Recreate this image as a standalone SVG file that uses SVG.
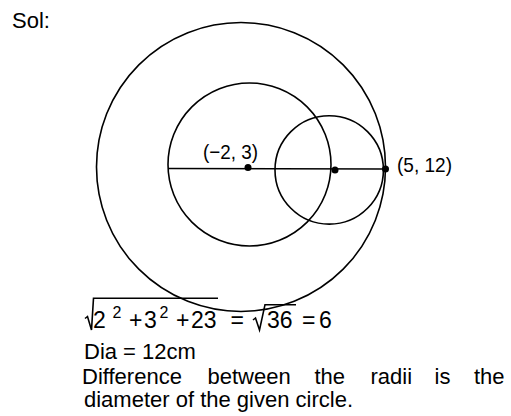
<svg xmlns="http://www.w3.org/2000/svg" width="511" height="416" viewBox="0 0 511 416">
<style>
.c{fill:none;stroke:#000;stroke-width:1.6}
.t{font-family:"Liberation Sans",Arial,sans-serif;font-size:22px;fill:#000}
.e{font-family:"Liberation Sans",Arial,sans-serif;font-size:23px;fill:#000}
.l{font-family:"Liberation Sans",Arial,sans-serif;font-size:21px;fill:#000}
.s{font-size:16px}
.d{fill:#000}
</style>
<rect width="511" height="416" fill="#fff"/>
<text class="t" x="12" y="28">Sol:</text>
<g id="outer-circle"><circle class="c" cx="241" cy="167" r="144.5"/></g>
<g id="given-circle"><circle class="c" cx="249.5" cy="164.5" r="81.5"/></g>
<g id="small-circle"><circle class="c" cx="329.2" cy="169.9" r="54.2"/></g>
<g id="connectors"><line class="c" x1="168.5" y1="168.5" x2="385.5" y2="169"/></g>
<g id="center"><circle class="d" cx="248" cy="167.5" r="3.5"/><text class="l" x="203" y="159" textLength="55" lengthAdjust="spacingAndGlyphs">(−2, 3)</text></g>
<g id="mid-point"><circle class="d" cx="335" cy="170" r="3.5"/></g>
<g id="touch-point"><circle class="d" cx="385.5" cy="169" r="3.5"/><text class="l" x="397" y="172" textLength="55" lengthAdjust="spacingAndGlyphs">(5, 12)</text></g>
<g id="equation">
<path class="c" d="M85,318.5 L87.5,316.5 L91.5,330 L93.5,298.3 L218,298.3"/>
<text class="e" y="328"><tspan x="93">2</tspan><tspan class="s" x="112.5" y="318">2</tspan><tspan x="129" y="328">+</tspan><tspan x="144">3</tspan><tspan class="s" x="159.5" y="318">2</tspan><tspan x="176" y="328">+</tspan><tspan x="191">23</tspan><tspan x="230.5">=</tspan></text>
<path class="c" d="M253,320 L255.5,318 L259.5,330 L265,304.7 L296,304.7"/>
<text class="e" y="328"><tspan x="267">36</tspan><tspan x="302">=</tspan><tspan x="319">6</tspan></text>
</g>
<text class="t" x="84" y="359">Dia = 12cm</text>
<text class="t" y="384"><tspan x="82">Difference</tspan><tspan x="207.5">between</tspan><tspan x="314.5">the</tspan><tspan x="370.5">radii</tspan><tspan x="434.5">is</tspan><tspan x="474">the</tspan></text>
<text class="t" x="84" y="407">diameter of the given circle.</text>
</svg>
